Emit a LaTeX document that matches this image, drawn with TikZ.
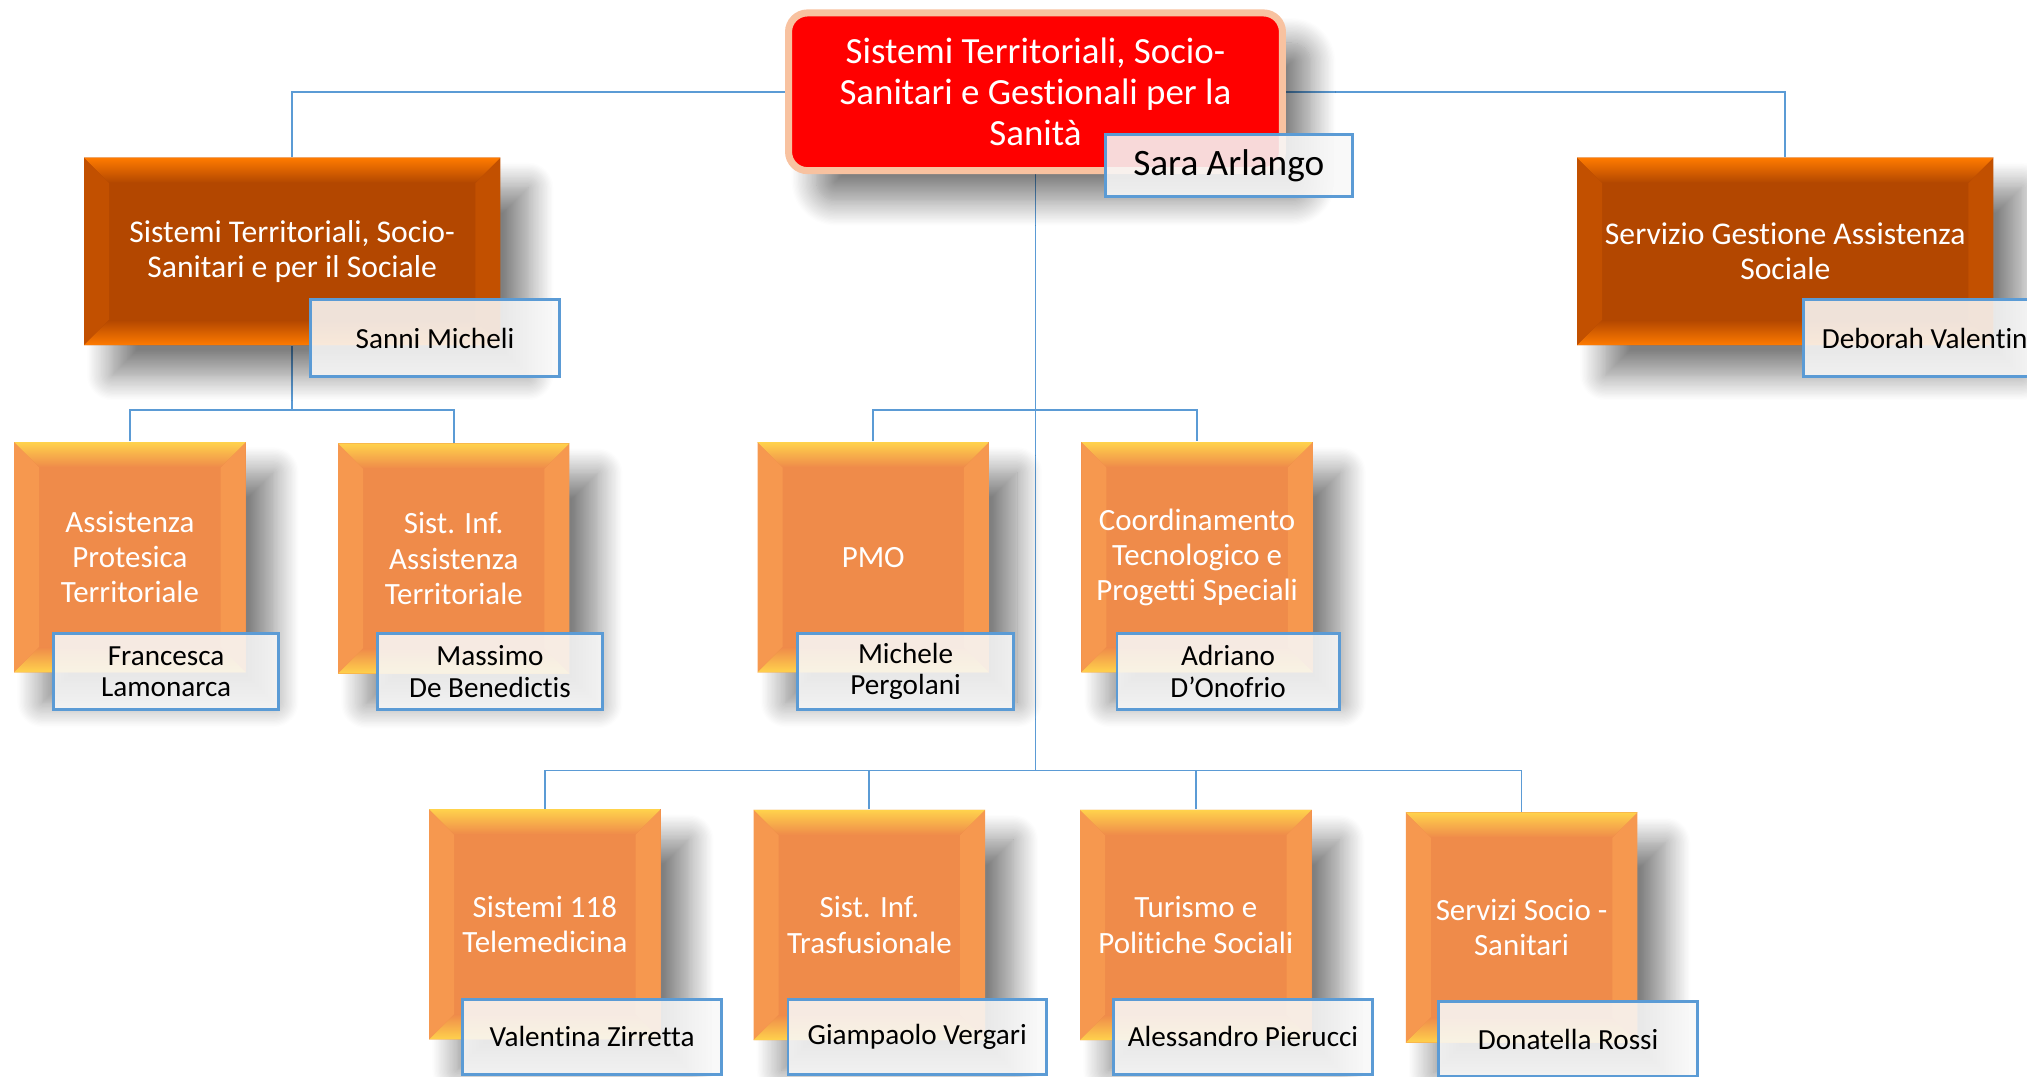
\documentclass[tikz,border=0pt]{standalone}
\usepackage{fontspec}
\setmainfont{Carlito}[Ligatures=NoCommon]
\usetikzlibrary{shadows.blur,backgrounds}
\newcommand\px{0.012927cm}
\definecolor{headred}{HTML}{FF0000}
\definecolor{headglow}{HTML}{F8C2A0}
\definecolor{areabrown}{HTML}{B34700}
\definecolor{areaedge}{HTML}{FF7B00}
\definecolor{areaside}{HTML}{C25000}
\definecolor{unitorange}{HTML}{EF8B4A}
\definecolor{unitedge}{HTML}{FFD24C}
\definecolor{unitside}{HTML}{F6984F}
\definecolor{namefill}{HTML}{F8F8F8}
\definecolor{nameblue}{HTML}{5B9BD5}
\tikzset{
  bevel/.style n args={3}{fill=#1, path picture={
    \fill[#3] (path picture bounding box.north west) -- ([shift={(0.25cm,-0.25cm)}]path picture bounding box.north west)
      -- ([shift={(0.25cm,0.25cm)}]path picture bounding box.south west) -- (path picture bounding box.south west) -- cycle;
    \fill[#3] (path picture bounding box.north east) -- ([shift={(-0.25cm,-0.25cm)}]path picture bounding box.north east)
      -- ([shift={(-0.25cm,0.25cm)}]path picture bounding box.south east) -- (path picture bounding box.south east) -- cycle;
    \fill[top color=#2, bottom color=#1] (path picture bounding box.north west) -- (path picture bounding box.north east)
      -- ([shift={(-0.25cm,-0.25cm)}]path picture bounding box.north east) -- ([shift={(0.25cm,-0.25cm)}]path picture bounding box.north west) -- cycle;
    \fill[top color=#1, bottom color=#2] (path picture bounding box.south west) -- (path picture bounding box.south east)
      -- ([shift={(-0.25cm,0.25cm)}]path picture bounding box.south east) -- ([shift={(0.25cm,0.25cm)}]path picture bounding box.south west) -- cycle;
  }},
  boxshadow/.style={blur shadow={shadow xshift=0.28cm, shadow yshift=-0.3cm, shadow blur radius=0.25cm,
    shadow blur steps=20, shadow opacity=50}},
  headbox/.style={rectangle, rounded corners=0.19cm, fill=headred, draw=headglow, line width=2pt, boxshadow,
    minimum width=4.938cm, minimum height=1.577cm, text=white, font=\fontsize{10.5}{11.6}\selectfont},
  areabox/.style={rectangle, bevel={areabrown}{areaedge}{areaside}, boxshadow,
    minimum width=4.162cm, minimum height=1.874cm, text=white, font=\fontsize{9}{9.8}\selectfont},
  unitbox/.style={rectangle, bevel={unitorange}{unitedge}{unitside}, boxshadow,
    minimum width=2.314cm, minimum height=2.301cm, text=white, font=\fontsize{8.8}{10}\selectfont},
  namebox/.style={rectangle, fill=namefill, fill opacity=0.88, text opacity=1, draw=nameblue, line width=0.8pt,
    minimum width=2.25cm, minimum height=0.763cm, text=black, font=\fontsize{8.3}{8.9}\selectfont},
  link/.style={draw=nameblue, line width=0.5pt}
}
\begin{document}
\begin{tikzpicture}[x=\px,y=-\px, every node/.style={inner sep=0pt, align=center}]
\useasboundingbox (0,0) rectangle (1568,833);
% head of the department
\node[headbox] (top) at (801,71) {Sistemi Territoriali, Socio-\\Sanitari e Gestionali per la\\Sanità};
\node[namebox, minimum width=2.469cm, minimum height=0.62cm, font=\fontsize{10.6}{12}\selectfont] (topn) at (950.5,128) {Sara Arlango};
% first level
\node[areabox] (terr) at (226,194.5) {Sistemi Territoriali, Socio-\\Sanitari e per il Sociale};
\node[namebox, minimum width=2.495cm] (terrn) at (336.5,261.5) {Sanni Micheli};
\node[areabox] (gest) at (1381,194.5) {Servizio Gestione Assistenza\\Sociale};
\node[namebox, minimum width=2.495cm] (gestn) at (1491.5,261.5) {Deborah Valentini};
% second level
\node[unitbox] (prot) at (100.5,431) {Assistenza\\Protesica\\Territoriale};
\node[namebox] (protn) at (128.5,519.5) {Francesca\\Lamonarca};
\node[unitbox] (sist) at (351,432) {Sist. Inf.\\Assistenza\\Territoriale};
\node[namebox] (sistn) at (379,519.5) {Massimo\\De Benedictis};
\node[unitbox] (pmo) at (675.5,431) {PMO};
\node[namebox, minimum width=2.159cm] (pmon) at (700.5,519.5) {Michele\\Pergolani};
\node[unitbox] (coord) at (926,431) {Coordinamento\\Tecnologico e\\Progetti Speciali};
\node[namebox, minimum width=2.223cm] (coordn) at (950,519.5) {Adriano\\D’Onofrio};
% third level
\node[unitbox] (s118) at (421.5,715) {Sistemi 118\\Telemedicina};
\node[namebox, minimum width=2.585cm, minimum height=0.75cm] (s118n) at (458,802) {Valentina Zirretta};
\node[unitbox] (trasf) at (672.5,715.5) {Sist. Inf.\\Trasfusionale};
\node[namebox, minimum width=2.585cm, minimum height=0.75cm] (trasfn) at (709.5,802) {Giampaolo Vergari};
\node[unitbox] (tur) at (925,715.5) {Turismo e\\Politiche Sociali};
\node[namebox, minimum width=2.585cm, minimum height=0.75cm] (turn) at (961.5,802) {Alessandro Pierucci};
\node[unitbox] (serv) at (1177,717.5) {Servizi Socio -\\Sanitari};
\node[namebox, minimum width=2.585cm, minimum height=0.75cm] (servn) at (1213,804) {Donatella Rossi};
% connectors
\coordinate (leftbus) at (226,317);
\coordinate (midbus) at (801,317);
\coordinate (lowbus) at (801,596);
\begin{scope}[on background layer]
\draw[link] (terr.north) |- (top.center) -| (gest.north);
\draw[link] (top.south) -- (lowbus);
\draw[link] (terr.south) -- (leftbus);
\draw[link] (prot.north) |- (leftbus) -| (sist.north);
\draw[link] (pmo.north) |- (midbus) -| (coord.north);
\draw[link] (s118.north) |- (lowbus) -| (serv.north);
\draw[link] (trasf.north) -- (trasf.north |- lowbus);
\draw[link] (tur.north) -- (tur.north |- lowbus);
\end{scope}
\end{tikzpicture}
\end{document}
